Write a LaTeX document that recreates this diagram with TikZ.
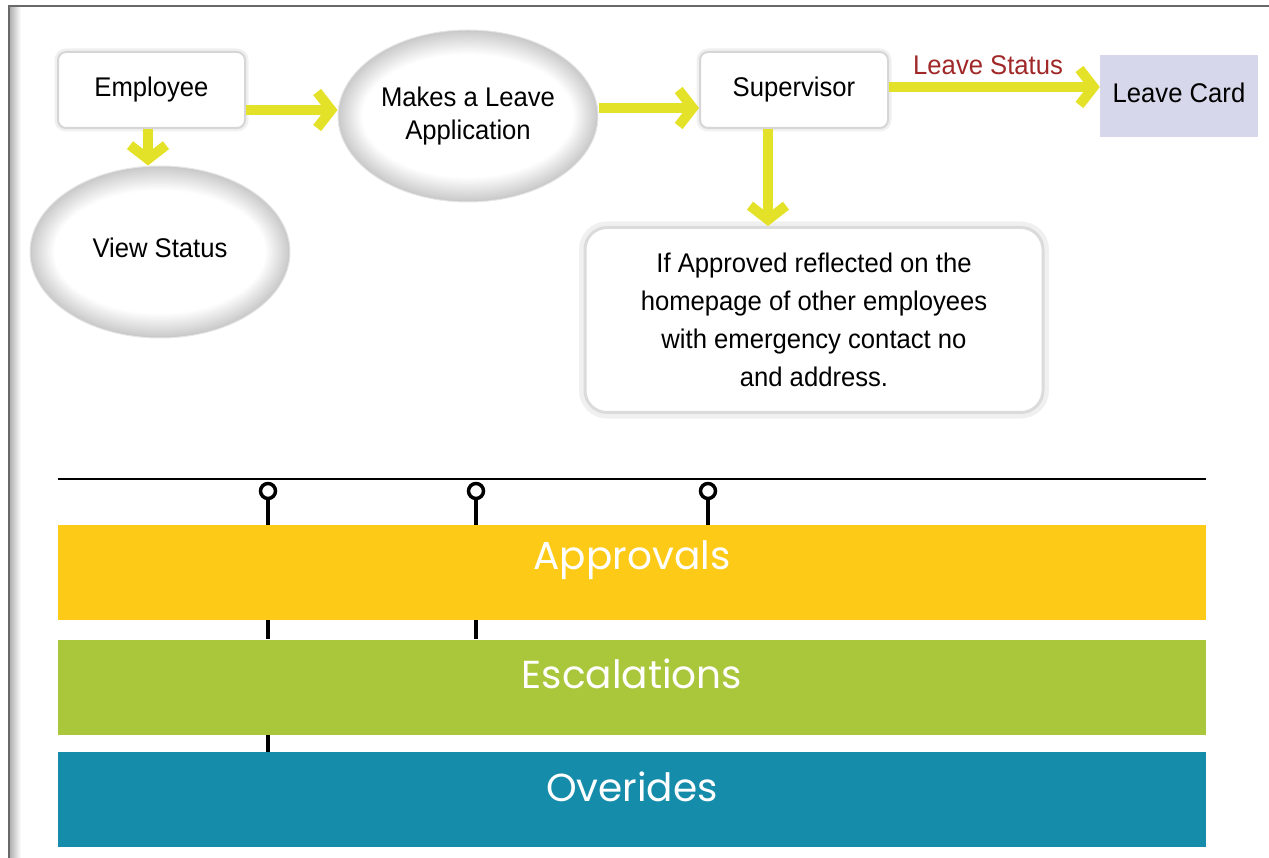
\documentclass[tikz,border=0pt]{standalone}
\usepackage{fontspec}
\setmainfont{Liberation Sans}
\newfontfamily\boxfont[FakeStretch=0.95]{Liberation Sans}
\newfontfamily\barfont{Poppins}
\usetikzlibrary{shapes.geometric,arrows.meta,calc}

\definecolor{arrowyellow}{RGB}{228,226,40}
\definecolor{statusred}{RGB}{160,40,40}
\definecolor{cardlav}{RGB}{215,215,235}
\definecolor{barorange}{RGB}{253,202,24}
\definecolor{bargreen}{RGB}{170,199,60}
\definecolor{barteal}{RGB}{21,140,170}
\definecolor{framegray}{RGB}{105,105,105}

\tikzset{
  card/.style={rectangle, rounded corners=8pt, fill=white, draw=black!16,
    line width=2pt, preaction={draw=black!6, line width=7pt},
    font=\boxfont\fontsize{27}{38}\selectfont, align=center, inner sep=0pt},
  % ellipse with a white centre fading to a soft grey rim
  bubble/.style={ellipse, draw=black!10, line width=1pt,
    font=\boxfont\fontsize{27}{33}\selectfont, align=center, inner sep=0pt,
    path picture={
      \foreach \k in {0,...,13}{
        \pgfmathsetmacro\tone{max(21-1.6*\k,0)}
        \fill[black!\tone] (path picture bounding box.center)
          ellipse [x radius={130-1.8*\k}, y radius={86-1.8*\k}];
      }
      \fill[white] (path picture bounding box.center)
          ellipse [x radius=105, y radius=61];
    }},
  notebox/.style={card, rounded corners=22pt, draw=black!14, line width=3pt,
    preaction={draw=black!6, line width=12pt}},
  yarrow/.style={draw=arrowyellow, line width=10pt,
    -{Straight Barb[length=14pt,width=36pt]}},
  bar/.style={rectangle, inner sep=0pt, minimum width=1148pt, minimum height=95pt},
  bartext/.style={font=\barfont\fontsize{39}{42}\selectfont, text=white, inner sep=0pt},
  pinhead/.style={circle, draw=black, fill=white, line width=3.5pt, minimum size=15pt, inner sep=0pt},
  stem/.style={draw=black, line width=3.5pt},
}

\begin{document}
\begin{tikzpicture}[x=1pt,y=-1pt]
\useasboundingbox (0,0) rectangle (1269,858);

% page frame
\fill[left color=black!30, right color=white] (10,7) rectangle (21,858);
\draw[framegray, line width=2.5pt] (9,858) -- (9,6) -- (1269,6);

% flow nodes
\node[card, minimum width=187pt, minimum height=76pt] (emp) at (151.5,90) {Employee};
\node[bubble, minimum width=260pt, minimum height=172pt] (vs) at (160,252) {\raisebox{9pt}{View Status}};
\node[bubble, minimum width=260pt, minimum height=172pt] (mk) at (468,116) {Makes a Leave\\Application};
\node[card, minimum width=188pt, minimum height=76pt] (sup) at (794,90) {Supervisor};
\node[rectangle, fill=cardlav, minimum width=158pt, minimum height=82pt, inner sep=0pt,
      font=\boxfont\fontsize{27}{33}\selectfont] (lc) at (1179,96) {\raisebox{7pt}{Leave Card}};
\node[notebox, minimum width=458pt, minimum height=185pt] (ap) at (814,320)
  {If Approved reflected on the\\homepage of other employees\\with emergency contact no\\and address.};

% flow connectors
\draw[yarrow] (emp.south -| 148,0) -- (vs.north -| 148,0);
\draw[yarrow] (emp.east |- 0,110) -- (mk.west |- 0,110);
\draw[yarrow] (mk.east |- 0,108) -- (sup.west |- 0,108);
\draw[yarrow] (sup.east |- 0,87) -- node[pos=0.47, above=7pt, text=statusred,
  font=\boxfont\fontsize{27}{33}\selectfont, inner sep=0pt] (ls) {Leave Status} (lc.west |- 0,87);
\draw[yarrow] (sup.south -| 768,0) -- (ap.north -| 768,0);

% category bars
\node[bar, fill=barorange] (apr) at (632,572.5) {};
\node[bar, fill=bargreen] (esc) at (632,687) {};
\node[bar, fill=barteal] (ovr) at (632,799.5) {};
\node[bartext] (aprt) at (632,560) {Approvals};
\node[bartext] (esct) at (632,674) {Escalations};
\node[bartext] (ovrt) at (632,787) {Overides};

% timeline with pins
\coordinate (tl) at (58,479);
\coordinate (tr) at (1206,479);
\draw[black, line width=1.6pt] (tl) -- (tr);
\node[pinhead] (p1) at (268,491) {};
\node[pinhead] (p2) at (476,491) {};
\node[pinhead] (p3) at (708,491) {};
\draw[stem] (p1.south) -- (p1 |- apr.north);
\draw[stem] (p2.south) -- (p2 |- apr.north);
\draw[stem] (p3.south) -- (p3 |- apr.north);
\draw[stem] (p1 |- apr.south) -- (p1 |- esc.north);
\draw[stem] (p2 |- apr.south) -- (p2 |- esc.north);
\draw[stem] (p1 |- esc.south) -- (p1 |- ovr.north);
\end{tikzpicture}
\end{document}
